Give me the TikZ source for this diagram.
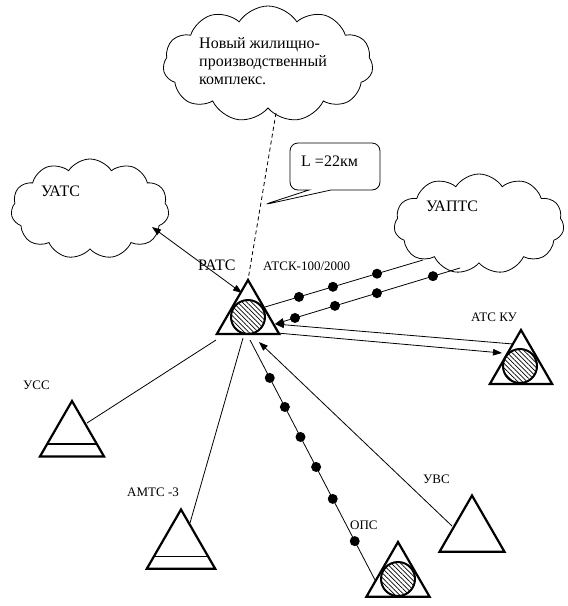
\documentclass[tikz,border=0pt]{standalone}
\usepackage{fontspec}
\setmainfont{Liberation Serif}
\usetikzlibrary{calc,shapes.geometric,shapes.symbols,shapes.callouts,arrows.meta,patterns.meta}
\begin{document}
\begin{tikzpicture}[x=1pt,y=-1pt,
  station/.style={regular polygon, regular polygon sides=3, draw, fill=white, line width=2.2pt, inner sep=0pt, outer sep=0pt},
  hatchball/.style={circle, draw, line width=2pt, inner sep=0pt, minimum size=34pt, pattern={Lines[angle=-45,distance=3.3pt,line width=0.7pt]}},
  wire/.style={line width=0.8pt},
  tipend/.style={-{Triangle[length=9pt,width=6.5pt]}},
  dot/.style={circle, fill=black, inner sep=0pt, minimum size=10pt},
  cloudy/.style={cloud, cloud puffs=11, cloud puff arc=115, cloud ignores aspect, draw, fill=white, line width=0.8pt, inner sep=0pt},
  big/.style={font=\fontsize{16}{18}\selectfont, inner sep=0pt},
  small/.style={font=\fontsize{13}{15}\selectfont, inner sep=0pt}
]
\useasboundingbox (0,0) rectangle (568,606);

% clouds
\node[cloudy, minimum width=210pt, minimum height=116pt] (newc) at (268,64) {};
\node[cloudy, minimum width=158pt, minimum height=100pt] (uatsc) at (90,209) {};
\node[cloudy, minimum width=170pt, minimum height=100pt] (uaptsc) at (479,224) {};

% callout
\node[rectangle callout, draw, line width=0.8pt, rounded corners=8pt, minimum width=90pt, minimum height=47pt,
      callout absolute pointer={(263,205)}, callout pointer width=22pt] (callout) at (335,166.5) {};

% stations
\node[station, minimum size=72pt] (ratc) at (248,316) {};
\node[hatchball] (ratcb) at (248,317) {};
\node[station, minimum size=72pt] (atcku) at (521,366) {};
\node[hatchball] (atckub) at (520,366) {};
\node[station, minimum size=74pt] (uss) at (72,438) {};
\node[station, minimum size=79pt] (amts) at (181,549) {};
\node[station, minimum size=73pt] (ops) at (398,578.5) {};
\node[hatchball] (opsb) at (398,579) {};
\node[station, minimum size=75pt] (uvs) at (472,533) {};

\draw[line width=1.6pt] ($(uss.corner 2)!0.22!(uss.corner 1)$) -- ($(uss.corner 3)!0.22!(uss.corner 1)$);
\draw[line width=1.6pt] ($(amts.corner 2)!0.21!(amts.corner 1)$) -- ($(amts.corner 3)!0.21!(amts.corner 1)$);

% connector end points
\coordinate (newcB) at (276,113);
\coordinate (uatsE) at (152,227);
\coordinate (ratcNW) at (242,293);
\coordinate (ratcE1) at (265,307);
\coordinate (uaptsE1) at (423,260);
\coordinate (uaptsE2) at (460,268);
\coordinate (ratcE2) at (275,324);
\coordinate (atckuW1) at (513,344);
\coordinate (ratcE3) at (277,333);
\coordinate (atckuW2) at (502,353);
\coordinate (ussE) at (87,423);
\coordinate (ratcSW) at (216,340);
\coordinate (amtsE) at (190,523);
\coordinate (ratcS1) at (243,338);
\coordinate (ratcS2) at (250,340);
\coordinate (opsW) at (375,580);
\coordinate (uvsW) at (452,526);
\coordinate (ratcS3) at (259,342);

% connectors
\draw[wire, dash pattern=on 4pt off 3pt] (newcB) -- (ratc.corner 1);
\draw[wire, {Triangle[length=9pt,width=6.5pt]}-{Triangle[length=9pt,width=6.5pt]}] (uatsE) -- (ratcNW);
\draw[wire] (ratcE1) -- (uaptsE1)
  node[dot, pos=0.215] (d11) {} node[dot, pos=0.43] (d12) {} node[dot, pos=0.709] (d13) {};
\draw[wire, tipend] (uaptsE2) -- (ratcE2)
  node[dot, pos=0.146] (d21) {} node[dot, pos=0.449] (d22) {} node[dot, pos=0.676] (d23) {} node[dot, pos=0.892] (d24) {};
\draw[wire, tipend] (atckuW1) -- (ratcE2);
\draw[wire, tipend] (ratcE3) -- (atckuW2);
\draw[wire] (ussE) -- (ratcSW);
\draw[wire] (amtsE) -- (ratcS1);
\draw[wire] (ratcS2) -- (opsW)
  node[dot, pos=0.158] (d31) {} node[dot, pos=0.279] (d32) {} node[dot, pos=0.404] (d33) {}
  node[dot, pos=0.529] (d34) {} node[dot, pos=0.662] (d35) {} node[dot, pos=0.838] (d36) {};
\draw[wire, tipend] (uvsW) -- (ratcS3);

% texts
\node[big, anchor=base west, align=left] (tnew) at (199,84.3) {Новый жилищно-\\производственный\\комплекс.};
\node[big, anchor=base west] (tuats) at (41,196.5) {УАТС};
\node[big, anchor=base west] (tuapts) at (426,211.5) {УАПТС};
\node[big, anchor=base west] (tratc) at (198,270.5) {РАТС};
\node[big, anchor=base west] (tL) at (301,166) {L =22км};
\node[small, anchor=base west] (tatsk) at (263,270.5) {АТСК-100/2000};
\node[small, anchor=base west] (tatcku) at (471,321.5) {АТС КУ};
\node[small, anchor=base west] (tuss) at (23,389) {УСС};
\node[small, anchor=base west] (tamts) at (127,496.5) {АМТС -3};
\node[small, anchor=base west] (tops) at (350,529.3) {ОПС};
\node[small, anchor=base west] (tuvs) at (423,483.3) {УВС};
\end{tikzpicture}
\end{document}
